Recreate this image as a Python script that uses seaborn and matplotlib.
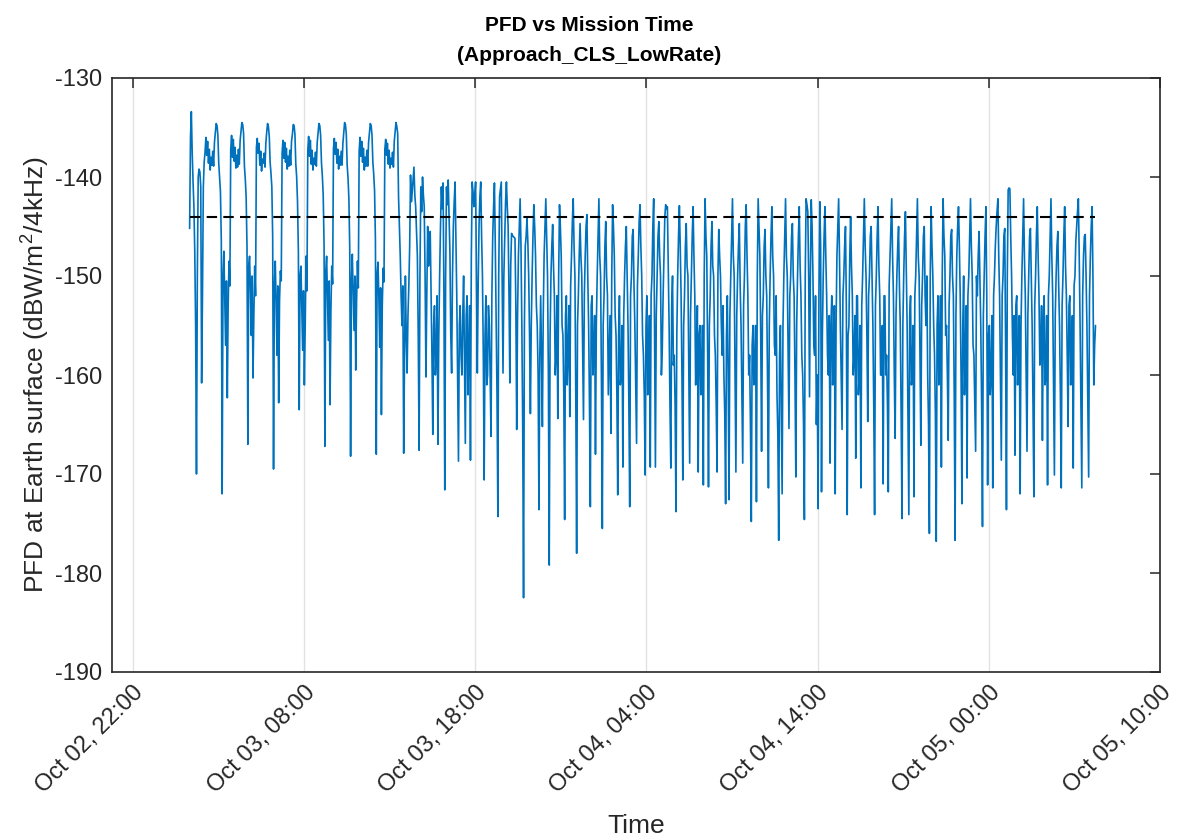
import numpy as np
import pandas as pd
import matplotlib
matplotlib.use("Agg")
import matplotlib.pyplot as plt
import seaborn as sns

# ---------------------------------------------------------------------------
# PFD samples (dBW/m^2/4kHz), one sample every 3 minutes from first contact
# ---------------------------------------------------------------------------
start_time = "2025-10-03 01:20"
step_minutes = 3
threshold_db = -144.0

# first minutes after acquisition
acquisition_db = [-145.2, -136.0, -133.4, -137.5, -140.5, -143.0, -147.5, -155.0, -170.0,
                  -150.0, -140.0, -139.2, -139.5, -141.0, -160.8, -152.0, -141.0, -138.5]

# high-power plateau of each orbit (8 orbits)
plateau_db = [
    [-137.5, -136.0, -137.8, -136.4, -138.6, -137.2, -139.3, -138.0, -138.8, -137.4, -138.9, -136.5, -135.6, -134.6, -134.8, -135.8],
    [-137.2, -135.8, -138.0, -136.2, -138.4, -137.0, -139.1, -137.8, -139.0, -137.2, -138.7, -136.3, -135.4, -134.5, -134.7, -135.6],
    [-137.0, -136.1, -137.6, -136.6, -138.8, -137.4, -139.4, -138.2, -138.6, -137.6, -139.0, -136.6, -135.5, -134.6, -134.9, -135.9],
    [-137.6, -136.3, -138.1, -136.5, -138.5, -137.1, -139.2, -137.9, -138.9, -137.3, -138.8, -136.4, -135.7, -134.7, -134.8, -135.7],
    [-137.3, -135.9, -137.9, -136.3, -138.7, -137.3, -139.3, -138.1, -138.7, -137.5, -138.9, -136.5, -135.5, -134.6, -134.8, -135.8],
    [-137.1, -136.1, -137.7, -136.5, -138.6, -137.2, -139.2, -137.9, -138.8, -137.4, -138.8, -136.6, -135.6, -134.5, -134.7, -135.7],
    [-137.4, -136.0, -137.9, -136.4, -138.5, -137.1, -139.3, -138.0, -138.9, -137.3, -138.9, -136.5, -135.6, -134.6, -134.8, -135.8],
    [-137.2, -136.2, -137.8, -136.6, -138.7, -137.3, -139.1, -138.1, -138.7, -137.5, -139.0, -136.4, -135.5, -134.5, -134.9, -135.6],
]

# fade between consecutive plateaus (7 gaps)
trough_db = [
    [-138.6, -140.0, -141.5, -146.5, -172.0, -150.0, -147.5, -152.0, -157.0, -150.5, -162.3, -153.0, -148.5, -151.0],
    [-138.9, -140.2, -142.0, -147.0, -167.0, -149.0, -148.0, -151.5, -156.0, -150.0, -160.3, -154.0, -149.0, -152.0],
    [-138.5, -139.6, -141.0, -146.0, -169.5, -151.0, -148.5, -152.5, -158.0, -151.0, -162.8, -152.5, -149.5, -150.5],
    [-138.7, -140.0, -142.5, -147.5, -163.5, -150.0, -149.0, -153.0, -157.5, -151.5, -161.0, -155.0, -148.0, -151.5],
    [-138.6, -139.9, -141.8, -146.8, -167.2, -149.5, -148.0, -152.0, -156.5, -150.5, -163.0, -153.5, -149.0, -150.8],
    [-138.8, -140.1, -142.2, -147.2, -168.2, -150.5, -147.8, -151.8, -155.5, -150.0, -159.5, -152.5, -148.5, -151.2],
    [-138.5, -139.7, -141.4, -146.4, -168.0, -149.8, -148.6, -152.2, -157.2, -151.2, -164.0, -153.0, -149.2, -150.6],
]

# low-rate approach phase
approach_oct03_pm = [
    -142, -145, -148, -152, -155, -151, -167.9, -158, -150, -156,
    -159.8, -154, -151, -147, -139.8, -142.5, -141.5, -140.2, -139, -141.8,
    -143, -145.5, -148, -156, -167.6, -150, -141, -143.5, -140, -141.8,
    -143, -150, -160.2, -152, -145, -149, -148, -145.5, -152, -158,
    -166, -155, -153, -160, -158, -152, -167, -156, -150, -145,
    -141, -143.2, -140.6, -152, -171.6, -150, -141, -142.8, -140.3, -144,
    -147.6, -156, -159.8, -150, -145, -142.5, -140.5, -146, -152, -160,
    -168.7, -155, -153, -158, -160, -154, -150, -158, -166.9, -154,
    -152, -162, -158, -153, -168.6, -148, -140.5, -141.5, -143, -142,
    -140.5, -150, -159.8, -151, -145, -142, -140.5, -146, -150, -158,
    -170.6, -156, -152, -161, -160, -153, -155, -160, -166.2, -152,
    -146, -143, -140.6, -147, -155, -162, -174.3, -150, -142, -141.2,
    -140.5, -150, -159.8, -150, -146, -142.5, -140.5, -143, -145, -152,
    -160.8, -149, -145.7, -145.9, -146, -146.1, -146.2, -153, -165.5, -154,
    -148, -145, -142.2, -147, -155, -165, -182.5, -155, -147, -146,
    -144.2, -146.5, -150, -156, -163.9, -155, -150, -146, -142.8, -145,
    -148, -153, -155, -160, -173.6, -158,
]

approach_oct04_am = [
    -152, -158, -165.2, -154, -148, -145, -142.2, -146, -150, -160,
    -179.2, -156, -150, -147, -144.8, -149, -152, -160, -158, -152,
    -164.4, -150, -142.8, -145, -148, -155, -156, -162, -174.6, -154,
    -152, -161, -158, -153, -164.2, -151, -148, -144.5, -142.2, -147,
    -150, -162, -178, -155, -152, -148, -144.7, -148, -150, -157,
    -164.5, -152, -148, -145, -143.8, -150, -155, -163, -173.3, -153,
    -152, -160, -158, -154, -168, -155, -150, -146, -142.2, -148,
    -150, -161, -175.5, -155, -152, -147, -144.5, -150, -152, -162,
    -158, -154, -165.9, -150, -142.8, -145, -148, -154, -156, -162,
    -172.1, -156, -152, -161, -160, -155, -169.3, -154, -150, -147,
    -145, -150, -155, -163, -173.3, -152, -150, -146, -145.3, -151,
    -155, -161, -166.9, -151, -148, -144.5, -142.8, -147, -150, -156,
    -158, -162, -170.1, -155, -152, -162, -160, -154, -169.3, -152,
    -150, -145, -142.2, -155, -169.3, -154, -150, -146, -144.5, -148,
    -150, -160, -157.5, -152, -148, -144, -142.8, -143.2, -143, -149,
    -155, -163, -169.4, -153, -150, -159, -158, -163, -173.8, -156,
    -150, -146, -142.9, -147,
]

approach_oct04_pm = [
    -152, -160, -170.6, -155, -152, -147, -144.7, -149, -150, -160,
    -168.9, -154, -150, -146, -143, -148, -152, -161, -158, -153,
    -169.8, -156, -155, -162, -161, -155, -171.1, -150, -142.2, -146,
    -148, -158, -171.3, -155, -152, -147, -144.5, -149, -150, -156,
    -158, -163, -169.8, -150, -145.3, -148, -150, -155, -158, -153,
    -160, -164, -173, -156, -152, -160, -172.6, -154, -150, -146,
    -142.2, -148, -150, -160, -169.8, -154, -150, -147, -144.7, -151,
    -155, -162, -168.9, -153, -150, -145, -142.8, -148, -152, -160,
    -158, -165, -174.8, -157, -155, -161, -160, -155, -172.8, -150,
    -142.2, -145, -148, -156, -167.7, -154, -152, -147, -145.3, -150,
    -152, -161, -171.4, -155, -150, -146, -143, -148, -150, -157,
    -158, -152, -162, -166, -176.7, -158, -155, -163, -172, -155,
    -150, -146, -142.2, -148, -150, -158, -165.4, -152, -150, -146,
    -144.7, -150, -152, -160, -170.3, -155, -150, -146, -143, -149,
    -152, -158, -160, -165, -174.6, -150, -142.2, -142.8, -143.5, -150,
    -162.2, -150, -142.3, -145, -150, -157, -158, -152, -165, -160,
    -173.5, -152, -142.5, -147,
]

approach_oct04_night = [
    -171.8, -156, -150, -146, -143, -148, -152, -158, -160, -154,
    -168.9, -155, -152, -161, -158, -153, -172, -155, -148, -145,
    -142.2, -148, -155, -160, -165.5, -152, -150, -147, -145, -153,
    -174.1, -156, -155, -148, -144, -149, -152, -160, -158, -154,
    -168.4, -152, -152, -162, -160, -155, -171.4, -153, -150, -146,
    -142.2, -147, -150, -156, -164.7, -152, -150, -146, -145, -150,
    -155, -163, -174.1, -153, -150, -146, -143, -149, -152, -160,
    -160, -155, -171, -152, -152, -160, -158, -163, -171.8, -151,
    -148, -145, -142.2, -148, -152, -160, -166.4, -154, -150, -147,
    -145, -151, -155, -164, -174.5, -155, -150, -146, -143.5, -149,
    -155, -164, -174.1, -154, -152, -161, -160, -155, -172.3, -152,
    -150, -146, -142.2, -148, -150, -158, -167.1, -153, -150, -146,
    -145, -152, -155, -150, -160, -165, -176, -150, -143, -147,
    -150, -155, -158, -164, -176.8, -155, -152, -161, -158, -152,
    -169.3, -150, -142.2, -146, -148, -156, -155, -160, -166.6, -153,
    -150, -146, -145.3, -150, -152, -162, -176.7, -154, -148, -145,
]

approach_oct05_am = [
    -143, -147, -152, -160, -173, -155, -150, -162, -158, -153,
    -170.4, -152, -150, -146, -142.2, -147, -150, -157, -158, -163,
    -167.7, -150, -152, -148, -145.5, -150, -155, -163, -175.3, -154,
    -150, -146, -143, -152, -171.1, -156, -155, -162, -160, -154,
    -171.4, -152, -150, -147, -145, -143.5, -142.2, -148, -152, -160,
    -168.6, -152, -150, -146, -145.2, -157, -173.6, -150, -141.3, -141.1,
    -141.2, -146, -150, -156, -160, -154, -168.1, -153, -152, -161,
    -158, -154, -172, -155, -150, -146, -142.2, -148, -152, -160,
    -167.7, -154, -150, -146, -145.2, -150, -155, -163, -172.3, -153,
    -150, -146, -143, -148, -152, -159, -158, -153, -166.6, -155,
    -152, -161, -160, -154, -171.1, -152, -150, -146, -142.2, -148,
    -152, -161, -170.1, -154, -150, -147, -145.5, -151, -155, -162,
    -171.4, -153, -150, -146, -143, -149, -152, -158, -165.2, -153,
    -152, -161, -158, -154, -169.4, -151, -150, -146.5, -145, -143.5,
    -142.2, -148, -155, -163, -171.4, -152, -148, -146, -145.8, -150,
    -155, -163, -170.3, -152, -148, -145, -143, -150, -161, -157,
    -155,
]

# ---------------------------------------------------------------------------
# assemble the series
# ---------------------------------------------------------------------------
pfd = list(acquisition_db)
for k, plateau in enumerate(plateau_db):
    pfd += plateau
    if k < len(trough_db):
        pfd += trough_db[k]
for seg in (approach_oct03_pm, approach_oct04_am, approach_oct04_pm,
            approach_oct04_night, approach_oct05_am):
    pfd += seg

times = pd.date_range(start_time, periods=len(pfd), freq=f"{step_minutes}min")
df = pd.DataFrame({"Time": times, "PFD": pfd})
thr = pd.DataFrame({"Time": [times[0], times[-1]],
                    "PFD": [threshold_db, threshold_db]})

# ---------------------------------------------------------------------------
# figure
# ---------------------------------------------------------------------------
sns.set_style("white")
plt.rcParams["font.family"] = ["Liberation Sans", "DejaVu Sans"]
plt.rcParams["axes.unicode_minus"] = False
plt.rcParams["mathtext.fontset"] = "custom"
plt.rcParams["mathtext.rm"] = "Liberation Sans"
plt.rcParams["mathtext.it"] = "Liberation Sans"

axis_col = "#262626"
fig = plt.figure(figsize=(11.78, 8.40), dpi=100)
ax = fig.add_axes([112 / 1178, 1 - 672 / 840, (1160 - 112) / 1178, (672 - 78) / 840])

sns.lineplot(data=df, x="Time", y="PFD", ax=ax, color="#0072BD",
             linewidth=1.2, estimator=None, sort=False)
sns.lineplot(data=thr, x="Time", y="PFD", ax=ax, color="black",
             linewidth=1.5, linestyle=(0, (5, 3)), estimator=None)

ax.set_ylim(-190, -130)
ax.set_yticks(np.arange(-190, -129, 10))
xticks = pd.date_range("2025-10-02 22:00", periods=7, freq="10h")
ax.set_xlim(pd.Timestamp("2025-10-02 20:48"), pd.Timestamp("2025-10-05 10:00"))
ax.set_xticks(xticks)
ax.set_xticklabels([t.strftime("%b %d, %H:%M") for t in xticks],
                   rotation=45, ha="right", va="top", rotation_mode="anchor")

ax.grid(axis="x", color="#e2e2e2", linewidth=1.0)
ax.grid(axis="y", visible=False)
ax.set_axisbelow(True)

for s in ax.spines.values():
    s.set_visible(True)
    s.set_color(axis_col)
    s.set_linewidth(1.2)

ax.tick_params(axis="both", direction="in", length=7, width=1.1,
               color=axis_col, labelcolor=axis_col, labelsize=17,
               top=True, right=True, pad=7)

ax.set_xlabel("Time", fontsize=19, color=axis_col, labelpad=12)
ax.set_ylabel("PFD at Earth surface (dBW/m$^2$/4kHz)", fontsize=19,
              color=axis_col, labelpad=2)
ax.set_title("PFD vs Mission Time\n(Approach_CLS_LowRate)",
             x=(589 - 112) / 1048, fontsize=15, fontweight="bold",
             color="black", pad=12, linespacing=1.75)

fig.savefig("out.png", dpi=100, facecolor="white")
